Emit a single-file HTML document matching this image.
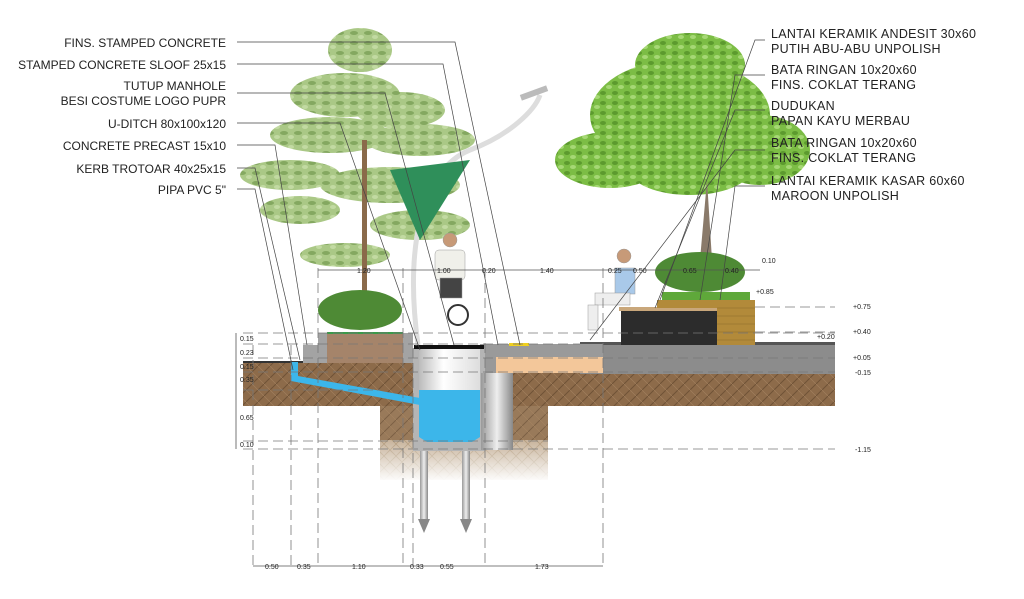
<!DOCTYPE html>
<html><head><meta charset="utf-8"><style>
body{margin:0;background:#fff;width:1024px;height:599px;overflow:hidden}
svg{display:block}
text{font-family:"Liberation Sans",sans-serif;fill:#222}
.lb{font-size:12px;letter-spacing:0}
.rb{font-size:12.5px;letter-spacing:0.3px}
.d{font-size:7px;fill:#555}
</style></head><body>
<svg width="1024" height="599" viewBox="0 0 1024 599">
<defs>
<pattern id="soil" width="12" height="12" patternUnits="userSpaceOnUse">
<rect width="12" height="12" fill="#8d6b4a"/>
<path d="M0 12L12 0M-3 3L3 -3M9 15L15 9" stroke="#6f5236" stroke-width="1"/>
<path d="M0 0L12 12" stroke="#a3815e" stroke-width="0.6"/>
</pattern>
<pattern id="soil2" width="12" height="12" patternUnits="userSpaceOnUse">
<rect width="12" height="12" fill="#c8b49c"/>
<path d="M0 12L12 0M0 0L12 12" stroke="#b09878" stroke-width="0.8"/>
</pattern>
<linearGradient id="fade" x1="0" y1="0" x2="0" y2="1">
<stop offset="0" stop-color="#fff" stop-opacity="0"/><stop offset="1" stop-color="#fff" stop-opacity="1"/>
</linearGradient>
<linearGradient id="pil" x1="0" x2="1"><stop offset="0" stop-color="#999"/><stop offset="0.5" stop-color="#eee"/><stop offset="1" stop-color="#888"/></linearGradient>
<linearGradient id="wall" x1="0" x2="1"><stop offset="0" stop-color="#bbb"/><stop offset="0.4" stop-color="#fff"/><stop offset="1" stop-color="#ddd"/></linearGradient>
<pattern id="leafL" width="14" height="10" patternUnits="userSpaceOnUse">
<rect width="14" height="10" fill="#9cbf72"/>
<ellipse cx="4" cy="3" rx="4" ry="2" fill="#6f9a45"/><ellipse cx="11" cy="7" rx="3" ry="2" fill="#b8d492"/>
</pattern>
<pattern id="leafR" width="12" height="10" patternUnits="userSpaceOnUse">
<rect width="12" height="10" fill="#7cbd45"/>
<ellipse cx="3" cy="3" rx="3" ry="2" fill="#5c9a2e"/><ellipse cx="9" cy="7" rx="3" ry="2" fill="#a6d875"/>
</pattern>
</defs>

<rect x="380" y="405" width="168" height="75" fill="url(#soil2)"/>
<rect x="380" y="440" width="168" height="42" fill="url(#fade)"/>
<rect x="243" y="362" width="592" height="44" fill="url(#soil)"/>
<rect x="380" y="400" width="168" height="40" fill="url(#soil)" opacity="0.8"/>

<rect x="580" y="344" width="255" height="30" fill="#8c8c8c"/>
<rect x="580" y="342" width="255" height="3" fill="#555"/>
<rect x="480" y="344" width="123" height="14" fill="#9a9a9a"/>
<rect x="496" y="357" width="107" height="16" fill="#f3c79a"/>
<rect x="480" y="357" width="16" height="16" fill="#999"/>
<rect x="509" y="343" width="20" height="3" fill="#f0d020"/>

<g fill="url(#leafL)" opacity="0.85">
<ellipse cx="360" cy="50" rx="32" ry="22"/>
<ellipse cx="345" cy="95" rx="55" ry="22"/><ellipse cx="400" cy="110" rx="45" ry="18"/>
<ellipse cx="330" cy="135" rx="60" ry="18"/><ellipse cx="420" cy="140" rx="55" ry="16"/>
<ellipse cx="290" cy="175" rx="50" ry="15"/><ellipse cx="390" cy="185" rx="70" ry="18"/>
<ellipse cx="300" cy="210" rx="40" ry="14"/><ellipse cx="420" cy="225" rx="50" ry="15"/>
<ellipse cx="345" cy="255" rx="45" ry="12"/>
</g>
<rect x="362" y="140" width="5" height="160" fill="#8a6a4a"/>
<g fill="url(#leafR)">
<ellipse cx="690" cy="65" rx="55" ry="32"/><ellipse cx="680" cy="115" rx="90" ry="55"/>
<ellipse cx="610" cy="160" rx="55" ry="28"/><ellipse cx="760" cy="150" rx="50" ry="35"/>
<ellipse cx="690" cy="170" rx="60" ry="25"/>
</g>
<path d="M707 180L700 260H712Z" fill="#8a7a6a"/>
<g fill="#4e8a35"><ellipse cx="360" cy="310" rx="42" ry="20"/><ellipse cx="700" cy="272" rx="45" ry="20"/></g>

<rect x="619" y="307" width="100" height="4" fill="#c9a77b"/>
<rect x="621" y="311" width="96" height="34" fill="#2c2c2c"/>
<rect x="717" y="300" width="38" height="45" fill="#b28a3a"/>
<rect x="657" y="300" width="60" height="8" fill="#b28a3a"/>
<g stroke="#8a6a2a" stroke-width="0.6">
<line x1="717" y1="308" x2="755" y2="308"/><line x1="717" y1="316" x2="755" y2="316"/><line x1="717" y1="324" x2="755" y2="324"/><line x1="717" y1="332" x2="755" y2="332"/><line x1="717" y1="340" x2="755" y2="340"/>
</g>
<rect x="662" y="292" width="88" height="8" fill="#5fa83a"/>

<rect x="303" y="345" width="15" height="18" fill="#a3a3a3"/>
<rect x="318" y="333" width="9" height="30" fill="#a3a3a3"/>
<rect x="327" y="334" width="76" height="29" fill="#a5846a"/>
<rect x="327" y="332" width="76" height="2" fill="#3a9a4a"/>
<rect x="403" y="333" width="10" height="30" fill="#a3a3a3"/>
<rect x="243" y="361" width="60" height="2" fill="#333"/>

<rect x="413" y="348" width="72" height="103" fill="#b5b5b5"/>
<rect x="419" y="349" width="61" height="42" fill="url(#wall)"/>
<path d="M419 390H480V437L472 442H427L419 437Z" fill="#3cb6ea"/>
<rect x="414" y="345" width="70" height="4" fill="#111"/>
<rect x="481" y="373" width="32" height="77" fill="url(#pil)"/>
<path d="M291 362H298V376L420 398V405L291 381Z" fill="#3cb6ea"/>
<rect x="420" y="451" width="8" height="70" fill="url(#pil)"/>
<rect x="462" y="451" width="8" height="70" fill="url(#pil)"/>
<path d="M418 519h12l-6 14z" fill="#888"/><path d="M460 519h12l-6 14z" fill="#888"/>

<path d="M418 345C405 250 420 170 470 150C510 135 535 110 540 95" stroke="#ddd" stroke-width="5" fill="none"/>
<path d="M390 170L470 160L420 240Z" fill="#2f8f5a"/>
<rect x="520" y="90" width="28" height="6" fill="#bbb" transform="rotate(-20 534 93)"/>

<g fill="#f0f0ea" stroke="#999" stroke-width="0.5">
<rect x="435" y="250" width="30" height="30" rx="4"/><circle cx="450" cy="240" r="7" fill="#c79a78"/>
<rect x="440" y="278" width="22" height="20" fill="#444"/>
<circle cx="458" cy="315" r="10" fill="none" stroke="#333" stroke-width="2"/>
<rect x="615" y="268" width="20" height="26" fill="#a9c9e9"/><circle cx="624" cy="256" r="7" fill="#c79a78"/>
<rect x="595" y="293" width="35" height="12" fill="#eee"/><rect x="588" y="305" width="10" height="25" fill="#eee"/>
</g>

<g stroke="#777" stroke-width="0.8" stroke-dasharray="10 5" fill="none">
<line x1="243" y1="333" x2="835" y2="333"/><line x1="243" y1="344" x2="580" y2="344"/>
<line x1="243" y1="358" x2="835" y2="358"/><line x1="243" y1="372" x2="835" y2="372"/>
<line x1="243" y1="390" x2="380" y2="390"/><line x1="243" y1="441" x2="548" y2="441"/>
<line x1="243" y1="449" x2="835" y2="449"/><line x1="755" y1="307" x2="835" y2="307"/>
<line x1="755" y1="332" x2="835" y2="332"/>
<line x1="253" y1="345" x2="253" y2="566"/><line x1="291" y1="345" x2="291" y2="566"/><line x1="318" y1="268" x2="318" y2="566"/>
<line x1="403" y1="268" x2="403" y2="566"/><line x1="413" y1="348" x2="413" y2="566"/><line x1="485" y1="268" x2="485" y2="566"/>
<line x1="603" y1="268" x2="603" y2="566"/>
</g>
<g stroke="#555" stroke-width="0.8">
<line x1="318" y1="270" x2="760" y2="270"/><line x1="253" y1="566" x2="603" y2="566"/>
<line x1="236" y1="333" x2="236" y2="449"/>
</g>
<g class="d">
<text x="357" y="273">1.20</text><text x="437" y="273">1.00</text><text x="482" y="273">0.20</text><text x="540" y="273">1.40</text>
<text x="608" y="273">0.25</text><text x="633" y="273">0.50</text><text x="683" y="273">0.65</text><text x="725" y="273">0.40</text>
<text x="762" y="263">0.10</text><text x="756" y="294">+0.85</text>
<text x="853" y="309">+0.75</text><text x="853" y="334">+0.40</text><text x="817" y="339">+0.20</text><text x="853" y="360">+0.05</text><text x="855" y="375">-0.15</text><text x="855" y="452">-1.15</text>
<text x="240" y="341">0.15</text><text x="240" y="355">0.23</text><text x="240" y="369">0.15</text><text x="240" y="382">0.35</text><text x="240" y="420">0.65</text><text x="240" y="447">0.10</text>
<text x="265" y="569">0.50</text><text x="297" y="569">0.35</text><text x="352" y="569">1.10</text><text x="410" y="569">0.33</text><text x="440" y="569">0.55</text><text x="535" y="569">1.73</text>
</g>

<g stroke="#444" stroke-width="0.7" fill="none">
<polyline points="237,42 455,42 520,345"/>
<polyline points="237,64 443,64 498,345"/>
<polyline points="237,93 385,93 454,345"/>
<polyline points="237,123 340,123 420,350"/>
<polyline points="237,145 275,145 307,345"/>
<polyline points="237,168 255,168 300,360"/>
<polyline points="237,189 255,189 293,370"/>
<polyline points="765,40 755,40 660,300"/>
<polyline points="765,75 735,75 700,300"/>
<polyline points="765,110 735,110 655,308"/>
<polyline points="765,150 735,150 590,340"/>
<polyline points="765,186 735,186 720,300"/>
</g>
<g class="lb" text-anchor="end">
<text x="226" y="47">FINS. STAMPED CONCRETE</text>
<text x="226" y="69">STAMPED CONCRETE SLOOF 25x15</text>
<text x="226" y="90">TUTUP MANHOLE</text>
<text x="226" y="105">BESI COSTUME LOGO PUPR</text>
<text x="226" y="128">U-DITCH 80x100x120</text>
<text x="226" y="150">CONCRETE PRECAST 15x10</text>
<text x="226" y="173">KERB TROTOAR 40x25x15</text>
<text x="226" y="194">PIPA PVC 5"</text>
</g>
<g class="rb">
<text x="771" y="38">LANTAI KERAMIK ANDESIT 30x60</text>
<text x="771" y="53">PUTIH ABU-ABU UNPOLISH</text>
<text x="771" y="74">BATA RINGAN 10x20x60</text>
<text x="771" y="89">FINS. COKLAT TERANG</text>
<text x="771" y="110">DUDUKAN</text>
<text x="771" y="125">PAPAN KAYU MERBAU</text>
<text x="771" y="147">BATA RINGAN 10x20x60</text>
<text x="771" y="162">FINS. COKLAT TERANG</text>
<text x="771" y="185">LANTAI KERAMIK KASAR 60x60</text>
<text x="771" y="200">MAROON UNPOLISH</text>
</g>
</svg>
</body></html>
